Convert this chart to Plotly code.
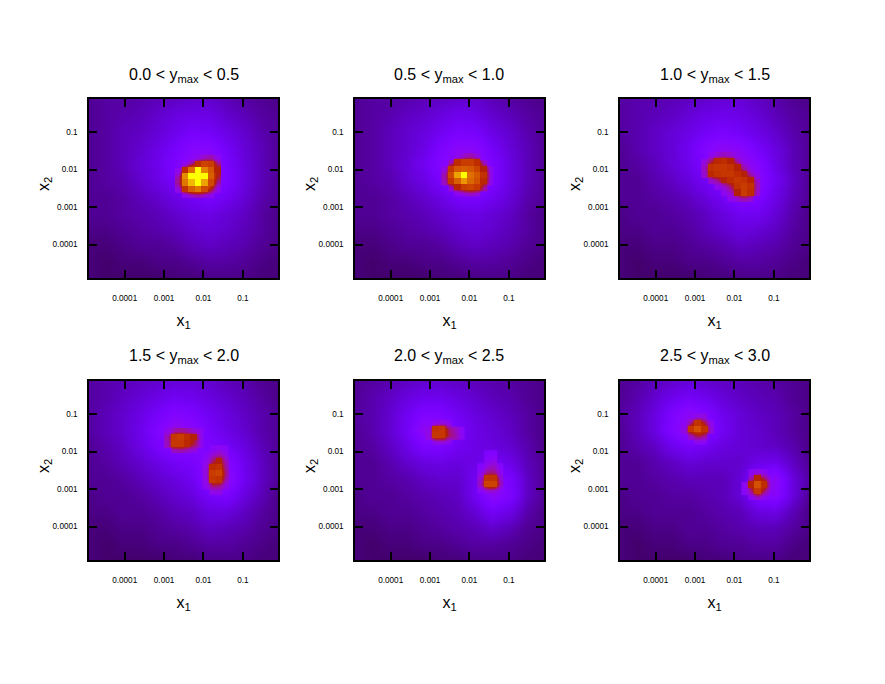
import numpy as np
import plotly.graph_objects as go
from plotly.subplots import make_subplots

panel_titles = ['0.0 &lt; y<sub>max</sub> &lt; 0.5', '0.5 &lt; y<sub>max</sub> &lt; 1.0', '1.0 &lt; y<sub>max</sub> &lt; 1.5',
                '1.5 &lt; y<sub>max</sub> &lt; 2.0', '2.0 &lt; y<sub>max</sub> &lt; 2.5', '2.5 &lt; y<sub>max</sub> &lt; 3.0']
tick_values = [0.0001, 0.001, 0.01, 0.1]
tick_labels = ['0.0001', '0.001', '0.01', '0.1']

# log10 range of x1 and x2
x_range = [-4.905, -0.108]
y_range = [-4.893, -0.12]
N = None

# smooth background of each panel, top row first (palette fraction 0..1)
bg_1 = [[.10,.11,.11,.12,.13,.14,.15,.15,.13,.11,.10,.09],
        [.10,.11,.12,.13,.15,.17,.18,.18,.15,.13,.11,.10],
        [.10,.11,.13,.14,.16,.19,.22,.21,.18,.15,.12,.10],
        [.10,.11,.13,.15,.18,.22,.27,.27,.21,.16,.13,.10],
        [.10,.11,.13,.16,.19,.24,.30,.32,.23,.17,.13,.10],
        [.10,.11,.12,.15,.18,.22,.28,.30,.24,.17,.13,.10],
        [.10,.10,.11,.13,.15,.18,.21,.23,.20,.16,.12,.10],
        [.10,.10,.11,.12,.13,.15,.17,.18,.16,.14,.11,.09],
        [.09,.09,.10,.11,.12,.13,.15,.16,.15,.13,.11,.09],
        [.08,.08,.09,.10,.10,.11,.13,.14,.13,.12,.10,.09],
        [.08,.07,.08,.08,.09,.09,.10,.11,.11,.10,.09,.08],
        [.08,.07,.07,.07,.07,.08,.08,.09,.09,.09,.08,.08]]
bg_2 = [[.10,.11,.11,.12,.13,.14,.15,.15,.13,.11,.10,.09],
        [.10,.11,.12,.14,.15,.17,.19,.18,.15,.13,.11,.10],
        [.10,.11,.13,.15,.17,.20,.23,.22,.18,.15,.12,.10],
        [.10,.11,.13,.15,.18,.24,.29,.28,.21,.16,.13,.10],
        [.10,.11,.13,.16,.20,.26,.32,.32,.24,.17,.13,.10],
        [.10,.11,.12,.15,.18,.23,.30,.31,.24,.17,.13,.10],
        [.10,.10,.11,.13,.15,.18,.22,.23,.20,.16,.12,.10],
        [.10,.10,.11,.12,.13,.15,.17,.18,.16,.14,.11,.09],
        [.09,.09,.10,.11,.12,.13,.15,.16,.15,.13,.11,.09],
        [.08,.08,.09,.10,.10,.11,.13,.14,.13,.12,.10,.09],
        [.08,.07,.08,.08,.09,.09,.10,.11,.11,.10,.09,.08],
        [.08,.07,.07,.07,.07,.08,.08,.09,.09,.09,.08,.08]]
bg_3 = [[.11,.12,.12,.13,.14,.15,.16,.16,.14,.12,.10,.09],
        [.11,.12,.13,.14,.16,.18,.19,.18,.16,.13,.11,.10],
        [.11,.12,.14,.16,.18,.21,.23,.21,.18,.15,.12,.10],
        [.10,.12,.14,.16,.20,.26,.30,.28,.22,.17,.13,.10],
        [.10,.11,.13,.16,.19,.25,.31,.33,.27,.18,.13,.10],
        [.10,.10,.12,.14,.17,.21,.26,.32,.29,.20,.14,.10],
        [.10,.10,.11,.12,.14,.17,.21,.26,.25,.18,.13,.10],
        [.09,.10,.10,.11,.12,.14,.17,.20,.20,.16,.12,.09],
        [.09,.09,.10,.10,.11,.13,.15,.17,.16,.14,.11,.09],
        [.08,.08,.09,.09,.10,.11,.12,.14,.13,.12,.10,.09],
        [.08,.07,.08,.08,.09,.09,.10,.11,.11,.10,.09,.08],
        [.08,.07,.07,.07,.07,.08,.08,.09,.09,.09,.08,.08]]
bg_4 = [[.11,.12,.13,.14,.15,.16,.16,.15,.13,.12,.10,.09],
        [.11,.12,.14,.16,.18,.20,.19,.17,.15,.13,.11,.09],
        [.11,.13,.15,.18,.22,.26,.24,.20,.17,.14,.12,.10],
        [.11,.13,.15,.19,.25,.33,.29,.22,.18,.15,.12,.10],
        [.10,.12,.14,.18,.23,.29,.27,.24,.21,.17,.13,.10],
        [.10,.11,.13,.15,.18,.21,.23,.28,.28,.19,.14,.10],
        [.10,.10,.11,.13,.15,.17,.20,.29,.31,.20,.14,.10],
        [.09,.10,.10,.11,.13,.15,.17,.22,.24,.17,.13,.09],
        [.09,.09,.10,.10,.11,.13,.14,.17,.17,.14,.11,.09],
        [.08,.08,.09,.09,.10,.11,.12,.14,.13,.12,.10,.09],
        [.08,.07,.08,.08,.09,.09,.10,.11,.11,.10,.09,.08],
        [.08,.07,.07,.07,.07,.08,.08,.09,.09,.09,.08,.08]]
bg_5 = [[.10,.11,.12,.14,.15,.15,.14,.13,.12,.11,.10,.09],
        [.10,.12,.14,.17,.19,.19,.17,.15,.13,.12,.10,.09],
        [.11,.12,.15,.20,.25,.24,.20,.17,.15,.13,.11,.09],
        [.10,.12,.15,.21,.31,.30,.22,.18,.16,.14,.11,.09],
        [.10,.11,.14,.18,.24,.24,.20,.18,.17,.15,.12,.09],
        [.10,.10,.12,.15,.17,.18,.17,.18,.21,.18,.13,.10],
        [.10,.10,.11,.12,.14,.15,.15,.20,.29,.23,.14,.10],
        [.09,.10,.10,.11,.12,.13,.14,.20,.30,.24,.14,.10],
        [.09,.09,.10,.10,.11,.12,.13,.16,.21,.18,.12,.09],
        [.08,.08,.09,.09,.10,.11,.12,.13,.15,.13,.10,.09],
        [.08,.07,.08,.08,.09,.09,.10,.11,.11,.10,.09,.08],
        [.08,.07,.07,.07,.07,.08,.08,.09,.09,.09,.08,.08]]
bg_6 = [[.10,.11,.13,.15,.16,.15,.14,.13,.12,.11,.10,.09],
        [.10,.12,.15,.19,.21,.19,.16,.14,.13,.12,.10,.09],
        [.11,.13,.17,.24,.30,.25,.19,.16,.14,.13,.11,.09],
        [.10,.13,.17,.25,.33,.27,.20,.16,.15,.13,.11,.09],
        [.10,.12,.14,.19,.22,.20,.17,.16,.15,.14,.12,.09],
        [.10,.10,.12,.14,.16,.15,.15,.15,.18,.19,.14,.10],
        [.10,.10,.11,.12,.13,.13,.13,.16,.26,.30,.17,.11],
        [.09,.10,.10,.11,.11,.12,.13,.16,.25,.28,.17,.10],
        [.09,.09,.10,.10,.10,.11,.12,.13,.17,.18,.13,.09],
        [.08,.08,.09,.09,.10,.10,.11,.12,.13,.13,.11,.09],
        [.08,.07,.08,.08,.09,.09,.10,.10,.11,.11,.09,.08],
        [.08,.07,.07,.07,.07,.08,.08,.09,.09,.09,.08,.08]]

# binned peak cells, top row first, N = no visible peak in that bin
peak_1 = [[N,N,.28,.31,.36,.38,.30],
          [N,.30,.42,.56,.64,.62,.42],
          [.30,.56,.76,1.0,.80,.70,.50],
          [.38,.82,1.0,1.0,1.0,.72,.46],
          [.40,.78,.90,1.0,.86,.66,.38],
          [.32,.58,.72,.78,.66,.48,.30],
          [N,.30,.36,.38,.34,.30,N]]
peak_2 = [[N,N,.30,.36,.38,.32,N,N],
          [N,.36,.56,.62,.62,.56,.34,N],
          [.32,.60,.70,.72,.70,.64,.50,.30],
          [.38,.66,.86,1.0,.76,.70,.58,.31],
          [.36,.60,.72,.84,.74,.68,.54,.30],
          [N,.34,.52,.62,.64,.60,.38,N],
          [N,N,.29,.33,.36,.32,N,N]]
peak_3 = [[N,.30,.34,.36,.34,.30,N,N,N],
          [.32,.46,.54,.56,.50,.38,.30,N,N],
          [.36,.58,.60,.60,.58,.50,.38,.30,N],
          [.34,.54,.58,.60,.60,.56,.50,.38,.30],
          [N,.34,.42,.50,.56,.60,.58,.52,.34],
          [N,N,.30,.36,.44,.58,.62,.58,.36],
          [N,N,N,.30,.36,.50,.62,.56,.34],
          [N,N,N,N,.30,.34,.38,.34,N]]
peak_4a = [[.31,.38,.40,.38,.34,.30],
           [.38,.60,.62,.56,.50,.32],
           [.36,.60,.60,.54,.46,.31],
           [N,.36,.38,.35,.32,N]]
peak_4b = [[N,.28,.30,.28],
           [.28,.34,.38,.31],
           [.30,.44,.50,.36],
           [.32,.56,.58,.38],
           [.33,.62,.64,.40],
           [.32,.60,.58,.37],
           [.30,.44,.42,.31],
           [N,.31,.31,N]]
peak_5a = [[N,.30,.32,.29,N,N],
           [.31,.58,.60,.42,.36,.29],
           [.32,.60,.60,.44,.38,.29],
           [N,.31,.33,.29,N,N]]
peak_5b = [[N,.25,.26,N],
           [N,.28,.30,N],
           [.26,.33,.36,.27],
           [.30,.42,.42,.30],
           [.34,.58,.58,.34],
           [.36,.64,.64,.36],
           [.28,.34,.34,.28]]
peak_6a = [[N,.29,.32,.32,N],
           [.29,.42,.58,.46,.30],
           [.32,.60,.68,.58,.33],
           [N,.36,.46,.40,N],
           [N,N,.30,.29,N]]
peak_6b = [[N,.29,.32,.29,N],
           [N,.38,.52,.44,.29],
           [.30,.52,.68,.56,.31],
           [.28,.42,.60,.42,.29],
           [N,.29,.36,.29,N]]

backgrounds = [bg_1, bg_2, bg_3, bg_4, bg_5, bg_6]
# per panel: (cells, log10 x1 of first column, log10 x2 of bottom row)
peaks = [[(peak_1, -2.64, -2.68)],
         [(peak_2, -2.63, -2.64)],
         [(peak_3, -2.76, -2.77)],
         [(peak_4a, -2.91, -1.95), (peak_4b, -1.94, -3.07)],
         [(peak_5a, -3.03, -1.73), (peak_5b, -1.72, -3.04)],
         [(peak_6a, -3.27, -1.73), (peak_6b, -1.74, -3.21)]]
bin_size = 0.165
# bins at or above this level are drawn as hard blocks on top of the blurred patch
core_level = 0.5

# gnuplot default pm3d palette (rgbformulae 7,5,15)
def palette(steps=64):
    scale = []
    for t in np.linspace(0, 1, steps):
        r = np.sqrt(t)
        g = t ** 3
        b = max(np.sin(2 * np.pi * t), 0)
        scale.append([float(t), 'rgb(%d,%d,%d)' % (r * 255, g * 255, b * 255)])
    return scale

fig = make_subplots(rows=2, cols=3)
colorscale = palette()

# inner frame of each panel in page pixels
col_px = [[89, 278], [355, 544], [620, 809]]
row_px = [[99, 278], [381, 560]]
width, height = 885, 684

for p in range(6):
    row = p // 3 + 1
    col = p % 3 + 1
    fig.add_trace(go.Heatmap(z=backgrounds[p][::-1],
                             x=np.linspace(x_range[0], x_range[1], 12),
                             y=np.linspace(y_range[0], y_range[1], 12),
                             zmin=0, zmax=1, colorscale=colorscale,
                             zsmooth='best', showscale=False), row=row, col=col)
    for cells, x0, y0 in peaks[p]:
        fig.add_trace(go.Heatmap(z=cells[::-1], x0=x0, dx=bin_size, y0=y0, dy=bin_size,
                                 zmin=0, zmax=1, colorscale=colorscale, zsmooth='best',
                                 showscale=False), row=row, col=col)
        core = [[v if v is not None and v >= core_level else None for v in r] for r in cells[::-1]]
        fig.add_trace(go.Heatmap(z=core, x0=x0, dx=bin_size, y0=y0, dy=bin_size,
                                 zmin=0, zmax=1, colorscale=colorscale,
                                 showscale=False), row=row, col=col)
    xpx = col_px[col - 1]
    ypx = row_px[row - 1]
    xc = sum(xpx) / 2 / width
    axis_style = dict(tickvals=np.log10(tick_values).tolist(), ticktext=tick_labels,
                      ticks='inside', ticklen=8, tickwidth=1.5, tickcolor='black',
                      showline=True, linecolor='black', linewidth=1.5, mirror='ticks',
                      showgrid=False, zeroline=False,
                      tickfont=dict(size=8.2, color='black'))
    fig.update_xaxes(domain=[xpx[0] / width, xpx[1] / width], range=x_range, ticklabelstandoff=11,
                     title=dict(text='x<sub>1</sub>', font=dict(size=16, color='black'), standoff=13),
                     row=row, col=col, **axis_style)
    fig.update_yaxes(domain=[1 - ypx[1] / height, 1 - ypx[0] / height], range=y_range, ticklabelstandoff=8,
                     row=row, col=col, **axis_style)
    fig.add_annotation(text=panel_titles[p], xref='paper', yref='paper', showarrow=False,
                       x=xc, y=1 - (ypx[0] - 24) / height, xanchor='center', yanchor='middle',
                       font=dict(size=16, color='black'))
    fig.add_annotation(text='x<sub>2</sub>', xref='paper', yref='paper', showarrow=False, textangle=-90,
                       x=(xpx[0] - 45) / width, y=1 - (ypx[0] + 85) / height, xanchor='center', yanchor='middle',
                       font=dict(size=16, color='black'))

fig.update_layout(width=width, height=height, margin=dict(l=0, r=0, t=0, b=0),
                  paper_bgcolor='white', plot_bgcolor='white',
                  font=dict(family='Liberation Sans'), showlegend=False)
fig.write_html("out.html", post_script="document.body.style.margin='0';",
               config=dict(displayModeBar=False))
